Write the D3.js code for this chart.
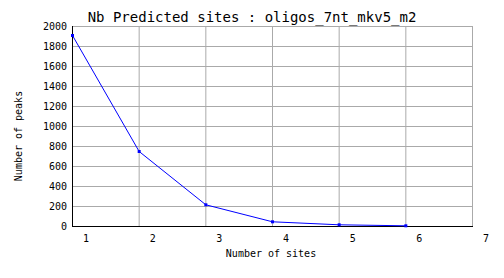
<!DOCTYPE html>
<meta charset="utf-8">
<title>Nb Predicted sites</title>
<style>
body { margin: 0; background: white; }
svg text { font-family: 'DejaVu Sans Mono', monospace; fill: black; }
</style>
<svg width="504" height="278"></svg>
<script src="https://d3js.org/d3.v7.min.js"></script>
<script>
var sites = [1, 2, 3, 4, 5, 6],
    peaks = [1910, 750, 217, 47, 17, 7];
var xTicks = [1, 2, 3, 4, 5, 6, 7],
    yTicks = d3.range(0, 2001, 200);

var svg = d3.select("svg");
var mLeft = 72, mRight = 472, mTop = 26, mBottom = 226;

var x = d3.scaleLinear().domain([1, 7]).range([mLeft, mRight]);
var y = d3.scaleLinear().domain([0, 2000]).range([mBottom, mTop]);

// grid
svg.append("g").selectAll("line").data(yTicks.slice(1)).enter().append("line")
  .attr("x1", mLeft).attr("x2", mRight)
  .attr("y1", function(d) { return y(d) + 0.5; }).attr("y2", function(d) { return y(d) + 0.5; })
  .attr("stroke", "#aaaaaa");
svg.append("g").selectAll("line").data(xTicks.slice(1)).enter().append("line")
  .attr("x1", function(d) { return x(d) + 0.5; }).attr("x2", function(d) { return x(d) + 0.5; })
  .attr("y1", mTop).attr("y2", mBottom)
  .attr("stroke", "#aaaaaa");

// axes
svg.append("line").attr("x1", mLeft + 0.5).attr("x2", mLeft + 0.5).attr("y1", mTop).attr("y2", mBottom + 1)
  .attr("stroke", "black");
svg.append("line").attr("x1", mLeft).attr("x2", mRight + 1).attr("y1", mBottom + 0.5).attr("y2", mBottom + 0.5)
  .attr("stroke", "black");

// tick labels
svg.append("g").selectAll("text").data(yTicks).enter().append("text")
  .attr("x", mLeft - 5).attr("y", function(d) { return y(d); })
  .attr("dy", "0.35em").attr("text-anchor", "end").attr("font-size", 10)
  .text(function(d) { return d; });
svg.append("g").selectAll("text").data(xTicks).enter().append("text")
  .attr("x", function(d) { return x(d) + 14; }).attr("y", 238)
  .attr("dy", "0.35em").attr("text-anchor", "middle").attr("font-size", 10)
  .text(function(d) { return d; });

// line + markers
var pts = sites.map(function(s, i) { return [s, peaks[i]]; });
svg.append("path").datum(pts)
  .attr("fill", "none").attr("stroke", "#0000ff").attr("stroke-width", 1)
  .attr("d", d3.line().x(function(d) { return x(d[0]) + 0.5; }).y(function(d) { return y(d[1]) + 0.5; }));
svg.append("g").selectAll("rect").data(pts).enter().append("rect")
  .attr("x", function(d) { return x(d[0]) - 1; }).attr("y", function(d) { return y(d[1]) - 1; })
  .attr("width", 3).attr("height", 3).attr("fill", "#0000ff");

// titles
svg.append("text").attr("x", 252).attr("y", 22).attr("text-anchor", "middle")
  .attr("font-size", 14).text("Nb Predicted sites : oligos_7nt_mkv5_m2");
svg.append("text").attr("x", 271).attr("y", 253).attr("dy", "0.35em").attr("text-anchor", "middle")
  .attr("font-size", 10).text("Number of sites");
svg.append("text").attr("transform", "translate(18,136) rotate(-90)").attr("dy", "0.35em")
  .attr("text-anchor", "middle").attr("font-size", 10).text("Number of peaks");
</script>
